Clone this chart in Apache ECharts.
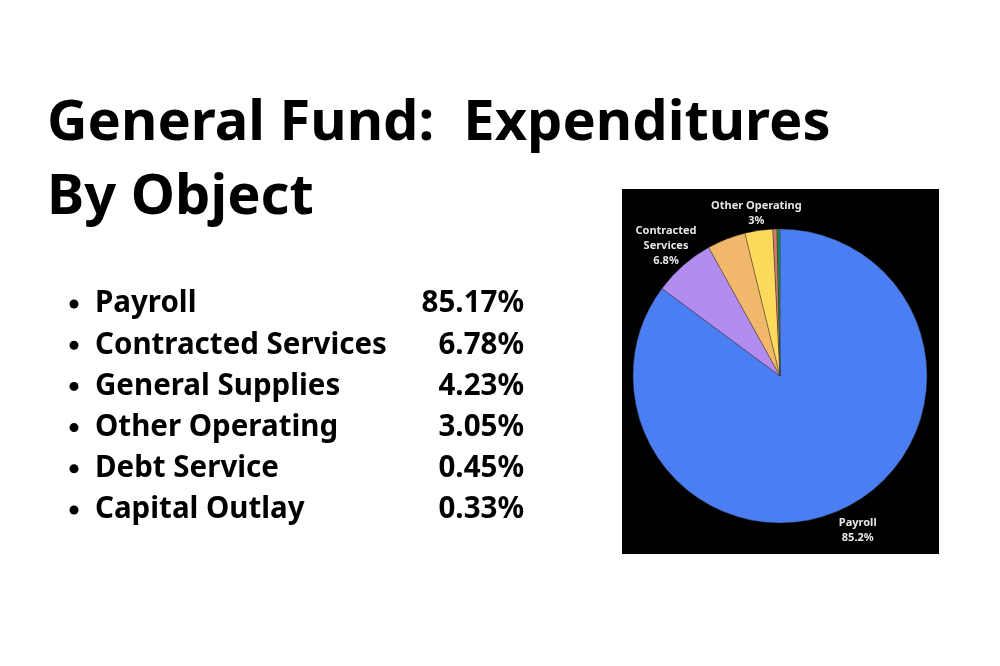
<!DOCTYPE html>
<html><head><meta charset="utf-8">
<script src="https://cdn.jsdelivr.net/npm/echarts@6/dist/echarts.min.js"></script>
<style>html,body{margin:0;padding:0;background:#fff}#c{width:1000px;height:666px}</style>
</head><body><div id="c"></div>
<script>
const titleLines = ['General Fund:  Expenditures', 'By Object'];
const categories = ['Payroll', 'Contracted Services', 'General Supplies', 'Other Operating', 'Debt Service', 'Capital Outlay'];
const values = [85.17, 6.78, 4.23, 3.05, 0.45, 0.33];
const pieLabelShown = ['Payroll', 'Contracted Services', 'Other Operating'];
const colors = ['#4a7ef2', '#b38cf0', '#f1b76a', '#fdd95c', '#d97a6c', '#1a8c4c'];

const chart = echarts.init(document.getElementById('c'));
const FONT = '"Noto Sans", sans-serif';
const CX = 780, CY = 376, R = 147;
const labelDist = {'Payroll': 173, 'Contracted Services': 173, 'Other Operating': 164};
const graphics = [
  {type:'rect', left:622, top:189, shape:{width:317, height:365}, style:{fill:'#000'}, z:-1},
  {type:'text', left:47, top:96, style:{text:titleLines[0], font:'bold 56px ' + FONT, fill:'#000'}},
  {type:'text', left:47, top:170, style:{text:titleLines[1], font:'bold 56px ' + FONT, fill:'#000'}}
];
categories.forEach((c, i) => {
  const y = 304 + i * 41.2;
  graphics.push({type:'circle', shape:{cx:74, cy:y, r:4.5}, style:{fill:'#000'}});
  graphics.push({type:'text', x:95, y:y, style:{text:c, font:'bold 29.5px ' + FONT, fill:'#000', textVerticalAlign:'middle'}});
  graphics.push({type:'text', x:524, y:y, style:{text:values[i].toFixed(2) + '%', font:'bold 29.5px ' + FONT, fill:'#000', textAlign:'right', textVerticalAlign:'middle'}});
});

const total = values.reduce((a, b) => a + b, 0);
function midAngle(idx) {
  let before = 0;
  for (let k = 0; k < idx; k++) before += values[k];
  return (before + values[idx] / 2) / total * 2 * Math.PI;
}

chart.setOption({
  animation:false,
  graphic: graphics,
  series:[{
    type:'pie',
    center:[CX, CY],
    radius:R,
    startAngle:90,
    clockwise:true,
    color: colors,
    itemStyle:{borderColor:'#333', borderWidth:0.4},
    label:{
      show:true,
      position:'outside',
      color:'#e6e6e6',
      fontFamily: FONT,
      fontWeight:'bold',
      fontSize:11,
      lineHeight:15,
      formatter: p => pieLabelShown.includes(p.name) ? (p.name === 'Contracted Services' ? 'Contracted\nServices' : p.name) + '\n' + (+p.value.toFixed(p.value < 5 ? 0 : 1)) + '%' : ''
    },
    labelLine:{show:false},
    labelLayout: function (params) {
      const a = midAngle(params.dataIndex);
      const d = labelDist[categories[params.dataIndex]] || 170;
      return {x: CX + d * Math.sin(a), y: CY - d * Math.cos(a), align:'center', verticalAlign:'middle'};
    },
    data: categories.map((c, i) => ({name:c, value:values[i]}))
  }]
});
</script></body></html>
